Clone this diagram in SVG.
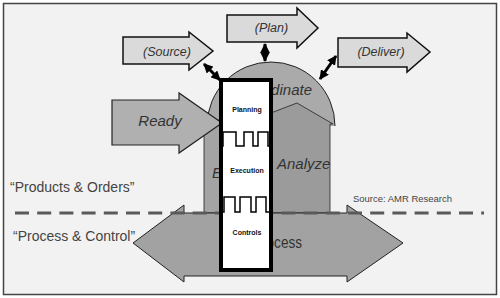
<svg xmlns="http://www.w3.org/2000/svg" width="500" height="298" viewBox="0 0 500 298">
<defs>
<style>
.lbl{font-family:"Liberation Sans",Arial,sans-serif;font-style:italic;fill:#333}
.small{font-family:"Liberation Sans",Arial,sans-serif;font-weight:bold;font-size:7px;fill:#111;text-anchor:middle}
.side{font-family:"Liberation Sans",Arial,sans-serif;font-size:14px;fill:#444}
.phase{stroke:#111;stroke-width:1.5;fill:#dadada}
.conn{stroke:#000;stroke-width:3;fill:none;marker-start:url(#ah);marker-end:url(#ah)}
</style>
<marker id="ah" viewBox="0 0 10 10" refX="9" refY="5" markerWidth="3.2" markerHeight="3.2" orient="auto-start-reverse">
<path d="M0,0 L10,5 L0,10 Z" fill="#000"/>
</marker>
</defs>
<rect x="0" y="0" width="500" height="298" fill="#fff"/>
<rect x="3.5" y="3.5" width="493" height="291" fill="#f2f2f2" stroke="#444" stroke-width="1.5"/>

<g id="coordinate">
<path d="M207,126 A64,64 0 0 1 335,126" fill="#aaaaaa" stroke="#222" stroke-width="1"/>
<text class="lbl" x="312" y="95" font-size="15" text-anchor="end">Coordinate</text>
</g>
<g id="analyze">
<polygon points="250,121 297,103 333,124 330,124 330,213 250,213" fill="#9b9b9b" stroke="#222" stroke-width="0.8"/>
<text class="lbl" x="277" y="169" font-size="15">Analyze</text>
</g>
<g id="execute">
<rect x="204" y="120" width="40" height="93" fill="#a4a4a4" stroke="#222" stroke-width="0.8"/>
<text class="lbl" x="212" y="178" font-size="15">Execute</text>
</g>
<g id="ready">
<polygon points="112,100 179,100 179,93 222,123 179,153 179,145 112,145" fill="#b0b0b0" stroke="#222" stroke-width="1.2"/>
<text class="lbl" x="160" y="126" font-size="15" text-anchor="middle">Ready</text>
</g>
<g id="process">
<polygon points="133,243 184,205 184,213 347,213 347,205 403,243 347,282 347,276 184,276 184,282" fill="#a2a2a2" stroke="#222" stroke-width="1"/>
<text x="302" y="248" font-family="Liberation Sans, Arial, sans-serif" font-size="17" fill="#333" text-anchor="end" textLength="49" lengthAdjust="spacingAndGlyphs">Process</text>
</g>

<line x1="15" y1="213" x2="484" y2="213" stroke="#5a5a5a" stroke-width="3" stroke-dasharray="14 8.2"/>

<g id="box">
<rect x="221" y="80" width="50" height="190" fill="#fff" stroke="#000" stroke-width="4"/>
<path d="M221,146 H223 V132 H236 V146 H244 V132 H253 V146 H258 V132 H268 V146 H271" fill="none" stroke="#000" stroke-width="1.5"/>
<path d="M221,212 H224 V197 H235 V212 H240 V197 H251 V212 H256 V197 H266 V212 H271" fill="none" stroke="#000" stroke-width="1.5"/>
<text class="small" x="247" y="112">Planning</text>
<text class="small" x="247" y="173">Execution</text>
<text class="small" x="247" y="235">Controls</text>
</g>

<g id="connectors">
<line class="conn" x1="220" y1="80" x2="204" y2="64"/>
<line class="conn" x1="265" y1="44" x2="265" y2="61"/>
<line class="conn" x1="320" y1="79" x2="336" y2="56"/>
</g>

<g id="source">
<polygon class="phase" points="123,37 189,37 189,32 213,51 189,70 189,64 123,64"/>
<text class="lbl" x="167" y="56" font-size="12.5" text-anchor="middle">(Source)</text>
</g>
<g id="plan">
<polygon class="phase" points="227,15 297,15 297,8 318,28 297,48 297,42 227,42"/>
<text class="lbl" x="271.5" y="32" font-size="12.5" text-anchor="middle">(Plan)</text>
</g>
<g id="deliver">
<polygon class="phase" points="338,38 407,38 407,33 430,52 407,72 407,67 338,67"/>
<text class="lbl" x="381" y="56" font-size="12.5" text-anchor="middle">(Deliver)</text>
</g>

<text class="side" x="10" y="192">“Products &amp; Orders”</text>
<text class="side" x="13" y="241">“Process &amp; Control”</text>
<text x="353" y="202" font-family="Liberation Sans, Arial, sans-serif" font-size="9" fill="#444" textLength="99" lengthAdjust="spacingAndGlyphs">Source: AMR Research</text>
</svg>
